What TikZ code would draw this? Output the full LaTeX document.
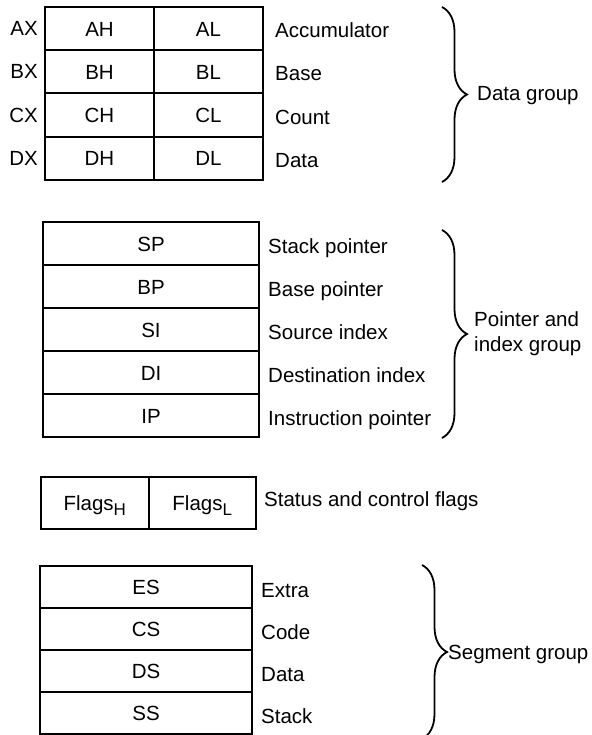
\documentclass[tikz,border=0pt]{standalone}
\usepackage{fontspec}
\setmainfont{Liberation Sans}
\usetikzlibrary{decorations.pathreplacing}

\begin{document}
\begin{tikzpicture}[x=1pt,y=-1pt,
    font=\fontsize{20.5}{25}\selectfont,
    regbox/.style={draw,line width=2pt,inner sep=0pt,text height=15pt,text depth=0pt},
    reglabel/.style={anchor=base west,inner sep=0pt},
    grpbrace/.style={decorate,decoration={brace,amplitude=25pt},line width=1.8pt}]
    \useasboundingbox (0,0) rectangle (591,735);

    % data registers, split in high and low bytes
    \foreach \hi/\lo/\reg/\txt [count=\i] in {AH/AL/AX/Accumulator,BH/BL/BX/Base,CH/CL/CX/Count,DH/DL/DX/Data}{
        \pgfmathsetmacro\yc{7+43.25*(\i-0.5)}
        \node[regbox,minimum width=109pt,minimum height=43.25pt] (\hi) at (99.5,\yc) {\hi};
        \node[regbox,minimum width=109pt,minimum height=43.25pt] (\lo) at (208.5,\yc) {\lo};
        \node[anchor=east,inner sep=0pt] (\reg) at (38,\yc) {\reg};
        \node[reglabel] (d\i) at (275,\yc+9) {\txt};
    }
    \draw[grpbrace] (442,7) -- (442,182);
    \node[reglabel] (datagrp) at (477,101) {Data group};

    % pointer and index registers
    \foreach \reg/\txt [count=\i] in {SP/Stack pointer,BP/Base pointer,SI/Source index,DI/Destination index,IP/Instruction pointer}{
        \pgfmathsetmacro\yc{222+43*(\i-0.5)}
        \node[regbox,minimum width=216pt,minimum height=43pt] (\reg) at (151,\yc) {\reg};
        \node[reglabel] (p\i) at (268,\yc+10) {\txt};
    }
    \draw[grpbrace] (442,230) -- (442,438);
    \node[anchor=west,align=left,inner sep=0pt] (ptrgrp) at (474,334) {Pointer and\\index group};

    % flags
    \node[regbox,minimum width=107.5pt,minimum height=52pt] (flagsH) at (94.75,503)
        {Flags\raisebox{-0.45ex}{\fontsize{17}{17}\selectfont H}};
    \node[regbox,minimum width=107.5pt,minimum height=52pt] (flagsL) at (202.25,503)
        {Flags\raisebox{-0.45ex}{\fontsize{17}{17}\selectfont L}};
    \node[reglabel] (flagtxt) at (264,506) {Status and control flags};

    % segment registers
    \foreach \reg/\txt [count=\i] in {ES/Extra,CS/Code,DS/Data,SS/Stack}{
        \pgfmathsetmacro\yc{566+42*(\i-0.5)}
        \node[regbox,minimum width=212pt,minimum height=42pt] (\reg) at (146,\yc) {\reg};
        \node[reglabel] (s\i) at (261,\yc+10) {\txt};
    }
    \draw[grpbrace] (422,565) -- (422,739);
    \node[reglabel] (seggrp) at (448,659) {Segment group};
\end{tikzpicture}
\end{document}
